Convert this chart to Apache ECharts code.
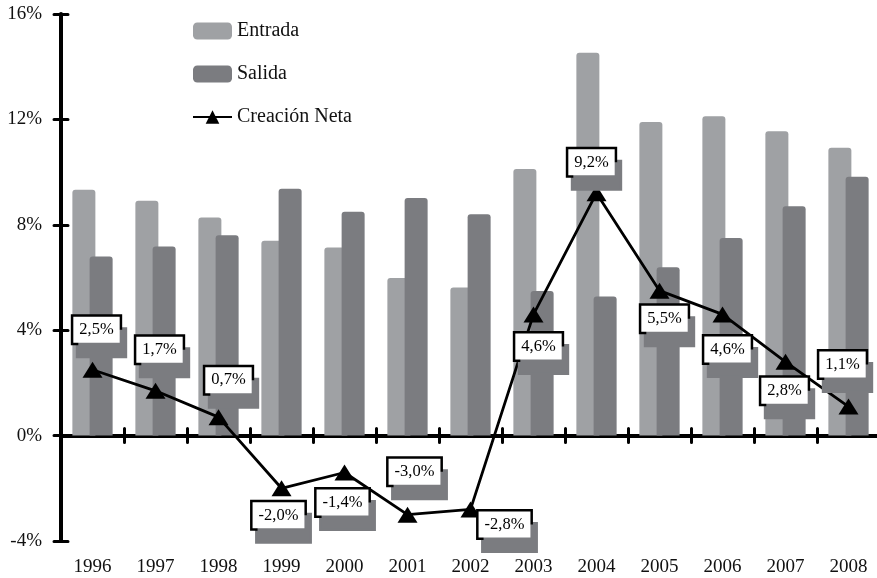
<!DOCTYPE html>
<html><head><meta charset="utf-8">
<script src="https://cdn.jsdelivr.net/npm/echarts@6/dist/echarts.min.js"></script>
<style>html,body{margin:0;padding:0;background:#fff}#c{width:877px;height:578px}</style>
</head><body><div id="c"></div>
<script>
// ---- data ----
const years = ['1996','1997','1998','1999','2000','2001','2002','2003','2004','2005','2006','2007','2008'];
const entrada = [9.33, 8.91, 8.28, 7.39, 7.14, 5.98, 5.62, 10.12, 14.53, 11.9, 12.12, 11.55, 10.92];
const salida  = [6.8, 7.18, 7.6, 9.37, 8.5, 9.02, 8.4, 5.49, 5.28, 6.39, 7.5, 8.7, 9.82];
const neta    = [2.5, 1.7, 0.7, -2.0, -1.4, -3.0, -2.8, 4.6, 9.2, 5.5, 4.6, 2.8, 1.1];
const seriesNames = ['Entrada', 'Salida', 'Creación Neta'];
const yMin = -4, yMax = 16, yStep = 4;

// ---- layout (label placement relative to each point) ----
const labelOffsets = [[4,-40],[4,-41],[10,-37],[-3,27],[-2,30],[7,-43],[34,15],[5,32],[-5,-31],[5,28],[5,35],[-1,29],[-6,-42]];

const FONT = '"Liberation Serif", "Times New Roman", serif';
const C_IN = '#9fa1a4', C_OUT = '#7b7c80';
const fmt = v => v.toFixed(1).replace('.', ',') + '%';

const chart = echarts.init(document.getElementById('c'), null, {renderer: 'canvas'});

const baseY = {
  type: 'value', min: yMin, max: yMax, interval: yStep, position: 'left',
  splitLine: {show: false}
};
const baseX = {
  type: 'category', data: years, position: 'bottom', boundaryGap: true,
  splitLine: {show: false}
};
const tickStyle = {color: '#000', width: 3, cap: 'round'};

const option = {
  animation: false,
  backgroundColor: '#fff',
  textStyle: {fontFamily: FONT},
  grid: {left: 61, top: 14, width: 819, height: 527, containLabel: false, outerBoundsMode: 'none'},
  legend: {
    data: seriesNames,
    orient: 'vertical', left: 192, top: 21, padding: 0,
    itemWidth: 39, itemHeight: 17, itemGap: 23,
    textStyle: {fontFamily: FONT, fontSize: 20, color: '#111'}
  },
  xAxis: [
    Object.assign({}, baseX, {
      axisLine: {show: false, onZero: false},
      axisTick: {show: false},
      axisLabel: {interval: 0, margin: 17, fontSize: 19, color: '#111', fontFamily: FONT}
    }),
    Object.assign({}, baseX, {
      axisLine: {show: true, onZero: true, onZeroAxisIndex: 0, lineStyle: {color: '#000', width: 4}},
      axisTick: {show: true, interval: 0, inside: false, length: 7, lineStyle: tickStyle},
      axisLabel: {show: false}
    }),
    Object.assign({}, baseX, {
      axisLine: {show: false, onZero: true, onZeroAxisIndex: 1},
      axisTick: {show: true, interval: 0, inside: true, length: 7, lineStyle: tickStyle},
      axisLabel: {show: false}
    })
  ],
  yAxis: [
    Object.assign({}, baseY, {
      axisLine: {show: true, onZero: false, lineStyle: {color: '#000', width: 4}},
      axisTick: {show: true, inside: false, length: 7, lineStyle: tickStyle},
      axisLabel: {formatter: '{value}%', margin: 19, fontSize: 19, color: '#111', fontFamily: FONT}
    }),
    Object.assign({}, baseY, {
      axisLine: {show: false, onZero: false},
      axisTick: {show: true, inside: true, length: 7, lineStyle: tickStyle},
      axisLabel: {show: false}
    })
  ],
  series: [
    {
      name: seriesNames[0], type: 'bar', xAxisIndex: 0, yAxisIndex: 0,
      data: entrada, barWidth: 23, barGap: '-25%',
      itemStyle: {color: C_IN, borderRadius: [3,3,0,0]}
    },
    {
      name: seriesNames[1], type: 'bar', xAxisIndex: 0, yAxisIndex: 0,
      data: salida, barWidth: 23, barGap: '-25%',
      itemStyle: {color: C_OUT, borderRadius: [3,3,0,0]}
    },
    {
      name: seriesNames[2], type: 'line', xAxisIndex: 0, yAxisIndex: 0, z: 5,
      data: neta,
      symbol: 'triangle', symbolSize: [20, 16], showAllSymbol: true,
      lineStyle: {color: '#000', width: 2.8},
      itemStyle: {color: '#000'},
      label: {
        show: true, position: 'inside',
        formatter: p => fmt(p.value),
        fontFamily: FONT, fontSize: 16.5, lineHeight: 18, color: '#000',
        backgroundColor: '#fff', borderColor: '#000', borderWidth: 2.5,
        padding: [4, 6, 4, 6],
        shadowColor: C_OUT, shadowBlur: 0, shadowOffsetX: 5, shadowOffsetY: 13
      },
      labelLayout: p => ({
        dx: labelOffsets[p.dataIndex][0],
        dy: labelOffsets[p.dataIndex][1],
        hideOverlap: false
      })
    }
  ]
};
chart.setOption(option);
</script>
</body></html>
